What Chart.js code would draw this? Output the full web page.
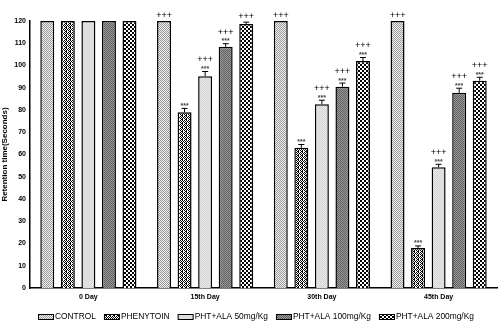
<!DOCTYPE html>
<html>
<head>
<meta charset="utf-8">
<script src="https://cdn.jsdelivr.net/npm/chart.js@4.4.1/dist/chart.umd.min.js"></script>
<style>
  html, body { margin: 0; padding: 0; background: #fff; }
  #wrap { width: 500px; height: 321px; }
</style>
</head>
<body>
<div id="wrap"><canvas id="grafico"></canvas></div>
<script>
// dados
const dias = ['0 Day', '15th Day', '30th Day', '45th Day'];
const grupos = ['CONTROL', 'PHENYTOIN', 'PHT+ALA 50mg/Kg', 'PHT+ALA 100mg/Kg', 'PHT+ALA 200mg/Kg'];
const control = [120, 120, 120, 120];
const phenytoin = [120, 79, 63, 18];
const ala50 = [120, 95.2, 82.6, 54.3];
const ala100 = [120, 108.4, 90.5, 87.8];
const ala200 = [120, 118.7, 102, 93.2];
// erro padrão (só para cima)
const errControl = [0, 0, 0, 0];
const errPhenytoin = [0, 1.7, 1.5, 0.9];
const errAla50 = [0, 2.1, 1.8, 1.3];
const errAla100 = [0, 1.4, 1.6, 2];
const errAla200 = [0, 0.8, 1.6, 1.5];
// marcas de significância
const estrelas = [
  ['', '', '', ''],
  ['', '***', '***', '***'],
  ['', '***', '***', '***'],
  ['', '***', '***', '***'],
  ['', '', '***', '***']
];
const cruzes = [
  ['', '+++', '+++', '+++'],
  ['', '', '', ''],
  ['', '+++', '+++', '+++'],
  ['', '+++', '+++', '+++'],
  ['', '+++', '+++', '+++']
];
const yTicks = [0, 10, 20, 30, 40, 50, 60, 70, 80, 90, 100, 110, 120];

// padrões de preenchimento
function padrao(tam, desenha) {
  const c = document.createElement('canvas');
  c.width = tam; c.height = tam;
  const g = c.getContext('2d');
  desenha(g);
  return g.createPattern(c, 'repeat');
}
function xadrez(tam, a, b) {
  return padrao(tam * 2, g => {
    g.fillStyle = a; g.fillRect(0, 0, tam * 2, tam * 2);
    g.fillStyle = b; g.fillRect(0, 0, tam, tam); g.fillRect(tam, tam, tam, tam);
  });
}
const pControl = xadrez(1, '#f0f0f0', '#9a9a9a');
const pPhenytoin = padrao(4, g => {
  g.fillStyle = '#fff'; g.fillRect(0, 0, 4, 4);
  g.fillStyle = '#000';
  g.fillRect(0, 0, 1, 1); g.fillRect(2, 0, 1, 1); g.fillRect(1, 1, 1, 1);
  g.fillRect(3, 1, 1, 1); g.fillRect(0, 2, 1, 1); g.fillRect(2, 2, 1, 1);
  g.fillRect(1, 3, 2, 1);
});
const pAla50 = xadrez(1, '#e6e6e6', '#d8d8d8');
const pAla100 = xadrez(1, '#9a9a9a', '#5e5e5e');
const pAla200 = xadrez(2, '#ffffff', '#000000');

const series = [control, phenytoin, ala50, ala100, ala200];
const erros = [errControl, errPhenytoin, errAla50, errAla100, errAla200];
const fills = [pControl, pPhenytoin, pAla50, pAla100, pAla200];

const datasets = grupos.map((nome, i) => ({
  label: nome,
  data: series[i],
  backgroundColor: fills[i],
  borderColor: '#000',
  borderWidth: 1.5,
  borderSkipped: 'bottom',
  categoryPercentage: 0.88,
  barPercentage: 0.68
}));

// barras de erro, marcas e legenda
const extras = {
  id: 'extras',
  afterDatasetsDraw(chart) {
    const ctx = chart.ctx;
    const y = chart.scales.y;
    ctx.save();
    datasets.forEach((ds, i) => {
      const meta = chart.getDatasetMeta(i);
      meta.data.forEach((bar, j) => {
        const topo = y.getPixelForValue(series[i][j] + erros[i][j]);
        let ref = bar.y;
        if (erros[i][j] > 0) {
          ctx.strokeStyle = '#000';
          ctx.lineWidth = 1;
          ctx.beginPath();
          ctx.moveTo(bar.x, bar.y);
          ctx.lineTo(bar.x, topo);
          ctx.moveTo(bar.x - 3, topo);
          ctx.lineTo(bar.x + 3, topo);
          ctx.stroke();
          ref = topo;
        }
        ctx.textAlign = 'center';
        ctx.textBaseline = 'bottom';
        let py = ref - 1;
        if (estrelas[i][j]) {
          ctx.fillStyle = '#444';
          ctx.font = 'bold 7px "Liberation Sans", Arial';
          ctx.fillText(estrelas[i][j], bar.x, py + 2);
          py -= 6;
        }
        if (cruzes[i][j]) {
          ctx.fillStyle = '#000';
          ctx.font = '9px "Liberation Sans", Arial';
          ctx.fillText(cruzes[i][j], bar.x, py);
        }
      });
    });

    // legenda embaixo
    ctx.font = '8.4px "Liberation Sans", Arial';
    ctx.textAlign = 'left';
    ctx.textBaseline = 'middle';
    let lx = 38;
    const ly = 317;
    datasets.forEach(ds => {
      ctx.fillStyle = ds.backgroundColor;
      ctx.fillRect(lx, ly - 3, 16, 6);
      ctx.strokeStyle = '#000';
      ctx.lineWidth = 1;
      ctx.strokeRect(lx + 0.5, ly - 2.5, 15, 5);
      ctx.fillStyle = '#000';
      ctx.fillText(ds.label, lx + 17, ly);
      lx += 17 + ctx.measureText(ds.label).width + 8;
    });
    ctx.restore();
  }
};

const grafico = new Chart(document.getElementById('grafico'), {
  type: 'bar',
  data: { labels: dias, datasets: datasets },
  options: {
    responsive: true,
    maintainAspectRatio: false,
    animation: false,
    layout: { padding: { top: 21, right: 3, left: 0, bottom: 16 } },
    plugins: {
      tooltip: { enabled: false },
      legend: { display: false }
    },
    scales: {
      x: {
        grid: { display: false, drawTicks: true, tickLength: 3, color: '#000' },
        border: { color: '#000', width: 1.5 },
        ticks: {
          color: '#000',
          padding: 2,
          font: { family: '"Liberation Sans", Arial', size: 7, weight: 'bold' }
        },
        afterFit(s) { s.height = 17; }
      },
      y: {
        min: 0,
        max: 120,
        afterBuildTicks(s) { s.ticks = yTicks.map(v => ({ value: v })); },
        grid: { display: false, drawTicks: true, tickLength: 3, color: '#000' },
        border: { color: '#000', width: 1.5 },
        ticks: {
          color: '#000',
          padding: 1,
          font: { family: '"Liberation Sans", Arial', size: 7, weight: 'bold' }
        },
        title: {
          display: true,
          text: 'Retention time(Seconds)',
          color: '#000',
          padding: { top: 0, bottom: 0 },
          font: { family: '"Liberation Sans", Arial', size: 8, weight: 'bold' }
        },
        afterFit(s) { s.width = 30; }
      }
    }
  },
  plugins: [extras]
});
</script>
</body>
</html>
